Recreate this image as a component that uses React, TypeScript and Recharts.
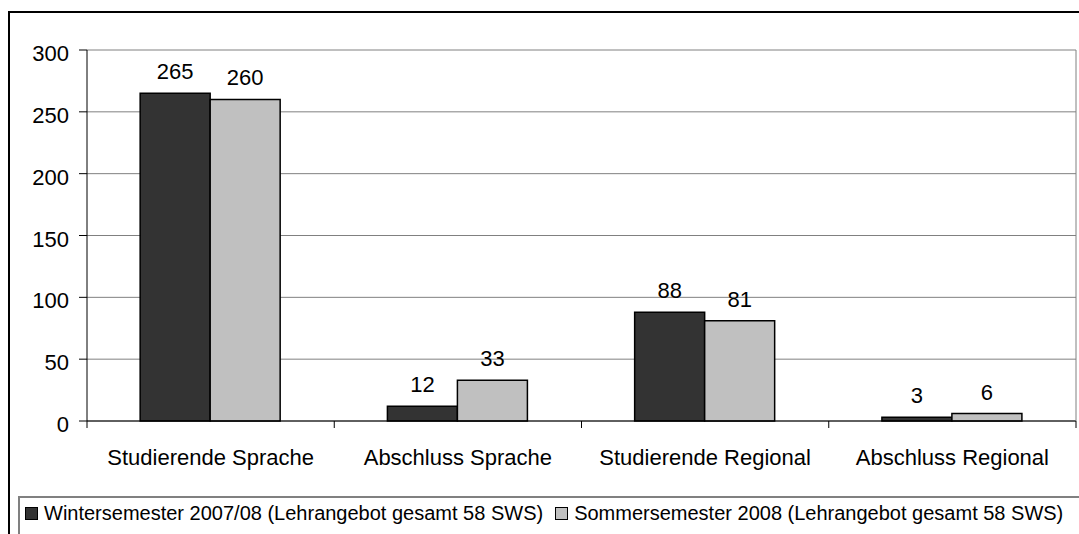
import { BarChart, Bar, XAxis, YAxis, CartesianGrid, LabelList } from 'recharts';

const categories = ['Studierende Sprache', 'Abschluss Sprache', 'Studierende Regional', 'Abschluss Regional'];
const winterValues = [265, 12, 88, 3];
const sommerValues = [260, 33, 81, 6];
const yTicks = [0, 50, 100, 150, 200, 250, 300];

const seriesNames = {
  winter: 'Wintersemester 2007/08 (Lehrangebot gesamt 58 SWS)',
  sommer: 'Sommersemester 2008 (Lehrangebot gesamt 58 SWS)',
};

const COLORS = { winter: '#333333', sommer: '#c0c0c0' };

const data = categories.map((name, i) => ({
  name,
  winter: winterValues[i],
  sommer: sommerValues[i],
}));

const W = 1079;
const H = 534;
const FONT = '"Liberation Sans", Arial, sans-serif';
const PLOT_LEFT = 87;
const PLOT_RIGHT = 1076;
const BAND = (PLOT_RIGHT - PLOT_LEFT) / categories.length;

function XTick(props: any) {
  const { x, y, payload, index } = props;
  const isLast = index === categories.length - 1;
  return (
    <g>
      <line x1={x - BAND / 2} y1={y} x2={x - BAND / 2} y2={y + 7} stroke="#000" />
      {isLast && <line x1={x + BAND / 2} y1={y} x2={x + BAND / 2} y2={y + 7} stroke="#000" />}
      <text x={x} y={y + 44} textAnchor="middle" fontSize={22} fill="#000" fontFamily={FONT}>
        {payload.value}
      </text>
    </g>
  );
}

function YTick(props: any) {
  const { x, y, payload } = props;
  return (
    <text x={x} y={y + 11} textAnchor="end" fontSize={22} fill="#000" fontFamily={FONT}>
      {payload.value}
    </text>
  );
}

export default function App() {
  return (
    <div style={{ position: 'absolute', left: 0, top: 0, width: W, height: H, overflow: 'hidden', background: '#fff' }}>
      {/* outer frame */}
      <div style={{ position: 'absolute', left: 8, top: 11, width: 1200, height: 700, border: '2px solid #000' }} />

      <div style={{ position: 'absolute', left: 0, top: 0 }}>
        <BarChart
          width={W}
          height={H}
          data={data}
          margin={{ top: 50, right: 0, left: 0, bottom: 53 }}
          barGap={0}
          barCategoryGap="21.5%"
        >
          <CartesianGrid vertical={false} stroke="#808080" />
          <XAxis
            dataKey="name"
            height={60}
            axisLine={{ stroke: '#000' }}
            tickLine={false}
            tickSize={0}
            tickMargin={0}
            interval={0}
            tick={<XTick />}
          />
          <YAxis
            width={87}
            domain={[0, 300]}
            ticks={yTicks}
            axisLine={{ stroke: '#000' }}
            tickLine={{ stroke: '#000' }}
            tickSize={8}
            tickMargin={10}
            tick={<YTick />}
          />
          <YAxis
            yAxisId="frame"
            orientation="right"
            width={3}
            domain={[0, 300]}
            axisLine={{ stroke: '#808080' }}
            tickLine={false}
            tick={false}
          />
          <Bar dataKey="winter" fill={COLORS.winter} stroke="#000" strokeWidth={1.5} isAnimationActive={false}>
            <LabelList dataKey="winter" position="top" offset={14} fontSize={22} fill="#000" fontFamily={FONT} />
          </Bar>
          <Bar dataKey="sommer" fill={COLORS.sommer} stroke="#000" strokeWidth={1.5} isAnimationActive={false}>
            <LabelList dataKey="sommer" position="top" offset={14} fontSize={22} fill="#000" fontFamily={FONT} />
          </Bar>
        </BarChart>
      </div>

      {/* legend */}
      <div
        style={{
          position: 'absolute',
          left: 18,
          top: 496,
          width: 1200,
          height: 100,
          border: '2px solid #808080',
          fontFamily: FONT,
          fontSize: 20,
          color: '#000',
        }}
      >
        <div style={{ position: 'absolute', left: 5, top: 4, display: 'flex', alignItems: 'center', whiteSpace: 'nowrap' }}>
          {(['winter', 'sommer'] as const).map((k) => (
            <span key={k} style={{ display: 'inline-flex', alignItems: 'center', marginRight: 12 }}>
              <span style={{ width: 11, height: 11, background: COLORS[k], border: '1px solid #000', marginRight: 6 }} />
              {seriesNames[k]}
            </span>
          ))}
        </div>
      </div>
    </div>
  );
}
